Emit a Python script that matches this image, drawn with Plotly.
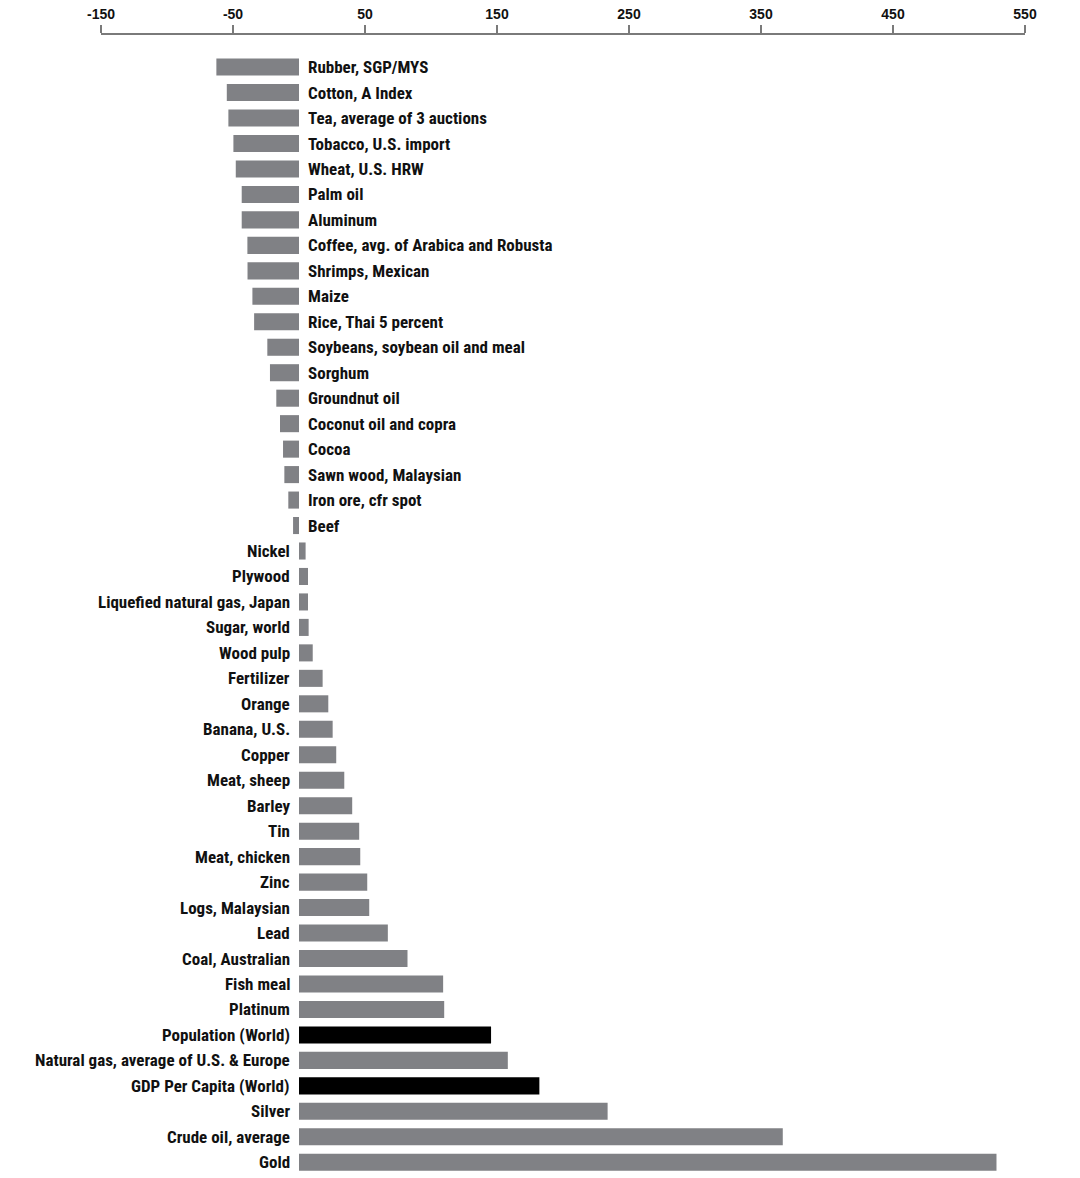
import plotly.graph_objects as go

categories = [
    "Rubber, SGP/MYS", "Cotton, A Index", "Tea, average of 3 auctions", "Tobacco, U.S. import",
    "Wheat, U.S. HRW", "Palm oil", "Aluminum", "Coffee, avg. of Arabica and Robusta",
    "Shrimps, Mexican", "Maize", "Rice, Thai 5 percent", "Soybeans, soybean oil and meal",
    "Sorghum", "Groundnut oil", "Coconut oil and copra", "Cocoa", "Sawn wood, Malaysian",
    "Iron ore, cfr spot", "Beef", "Nickel", "Plywood", "Liquefied natural gas, Japan",
    "Sugar, world", "Wood pulp", "Fertilizer", "Orange", "Banana, U.S.", "Copper",
    "Meat, sheep", "Barley", "Tin", "Meat, chicken", "Zinc", "Logs, Malaysian", "Lead",
    "Coal, Australian", "Fish meal", "Platinum", "Population (World)",
    "Natural gas, average of U.S. & Europe", "GDP Per Capita (World)", "Silver",
    "Crude oil, average", "Gold",
]
values = [
    -62.6, -54.7, -53.5, -49.7, -47.9, -43.4, -43.4, -39.1, -39.0, -35.3, -34.0, -24.0,
    -22.0, -17.2, -14.4, -12.1, -11.1, -8.1, -4.5, 5.0, 6.8, 6.8, 7.3, 10.4, 17.9, 22.2,
    25.5, 28.2, 34.3, 40.3, 45.6, 46.4, 51.7, 53.2, 67.3, 82.2, 109.2, 110.0, 145.5,
    158.2, 182.1, 233.8, 366.5, 528.4,
]
highlight = ["Population (World)", "GDP Per Capita (World)"]
tick_vals = [-150, -50, 50, 150, 250, 350, 450, 550]

GRAY = "#808185"
colors = ["#000000" if c in highlight else GRAY for c in categories]
ypos = list(range(len(categories)))

LABEL_FONT = dict(family="Roboto Condensed, DejaVu Sans Condensed, sans-serif",
                  size=17, color="#111111")

fig = go.Figure()
fig.add_trace(go.Bar(
    x=values, y=ypos, orientation="h", marker=dict(color=colors, line=dict(width=0)),
    width=0.67, hoverinfo="skip",
))

annotations = []
for c, v, y in zip(categories, values, ypos):
    if v < 0:
        annotations.append(dict(x=0, y=y, xref="x", yref="y", text="<b>%s</b>" % c,
                                showarrow=False, xanchor="left", xshift=7, font=LABEL_FONT))
    else:
        annotations.append(dict(x=0, y=y, xref="x", yref="y", text="<b>%s</b>" % c,
                                showarrow=False, xanchor="right", xshift=-7, font=LABEL_FONT))

fig.update_layout(
    width=1080, height=1178,
    margin=dict(l=101, r=55, t=35, b=3),
    paper_bgcolor="white", plot_bgcolor="white",
    showlegend=False,
    annotations=annotations,
    xaxis=dict(
        side="top", range=[-150, 550], tickvals=tick_vals,
        ticktext=["<b>%d</b>" % t for t in tick_vals],
        showgrid=False, zeroline=False,
        showline=True, linecolor="#7a7a7a", linewidth=2,
        ticks="outside", ticklen=8, tickwidth=1.5, tickcolor="#7a7a7a",
        tickfont=dict(family="Liberation Sans, Arial, sans-serif", size=14, color="#111111"),
    ),
    yaxis=dict(
        range=[43.5, -1.26], showticklabels=False, showgrid=False, zeroline=False,
        showline=False, ticks="",
    ),
)

fig.write_html("out.html")
